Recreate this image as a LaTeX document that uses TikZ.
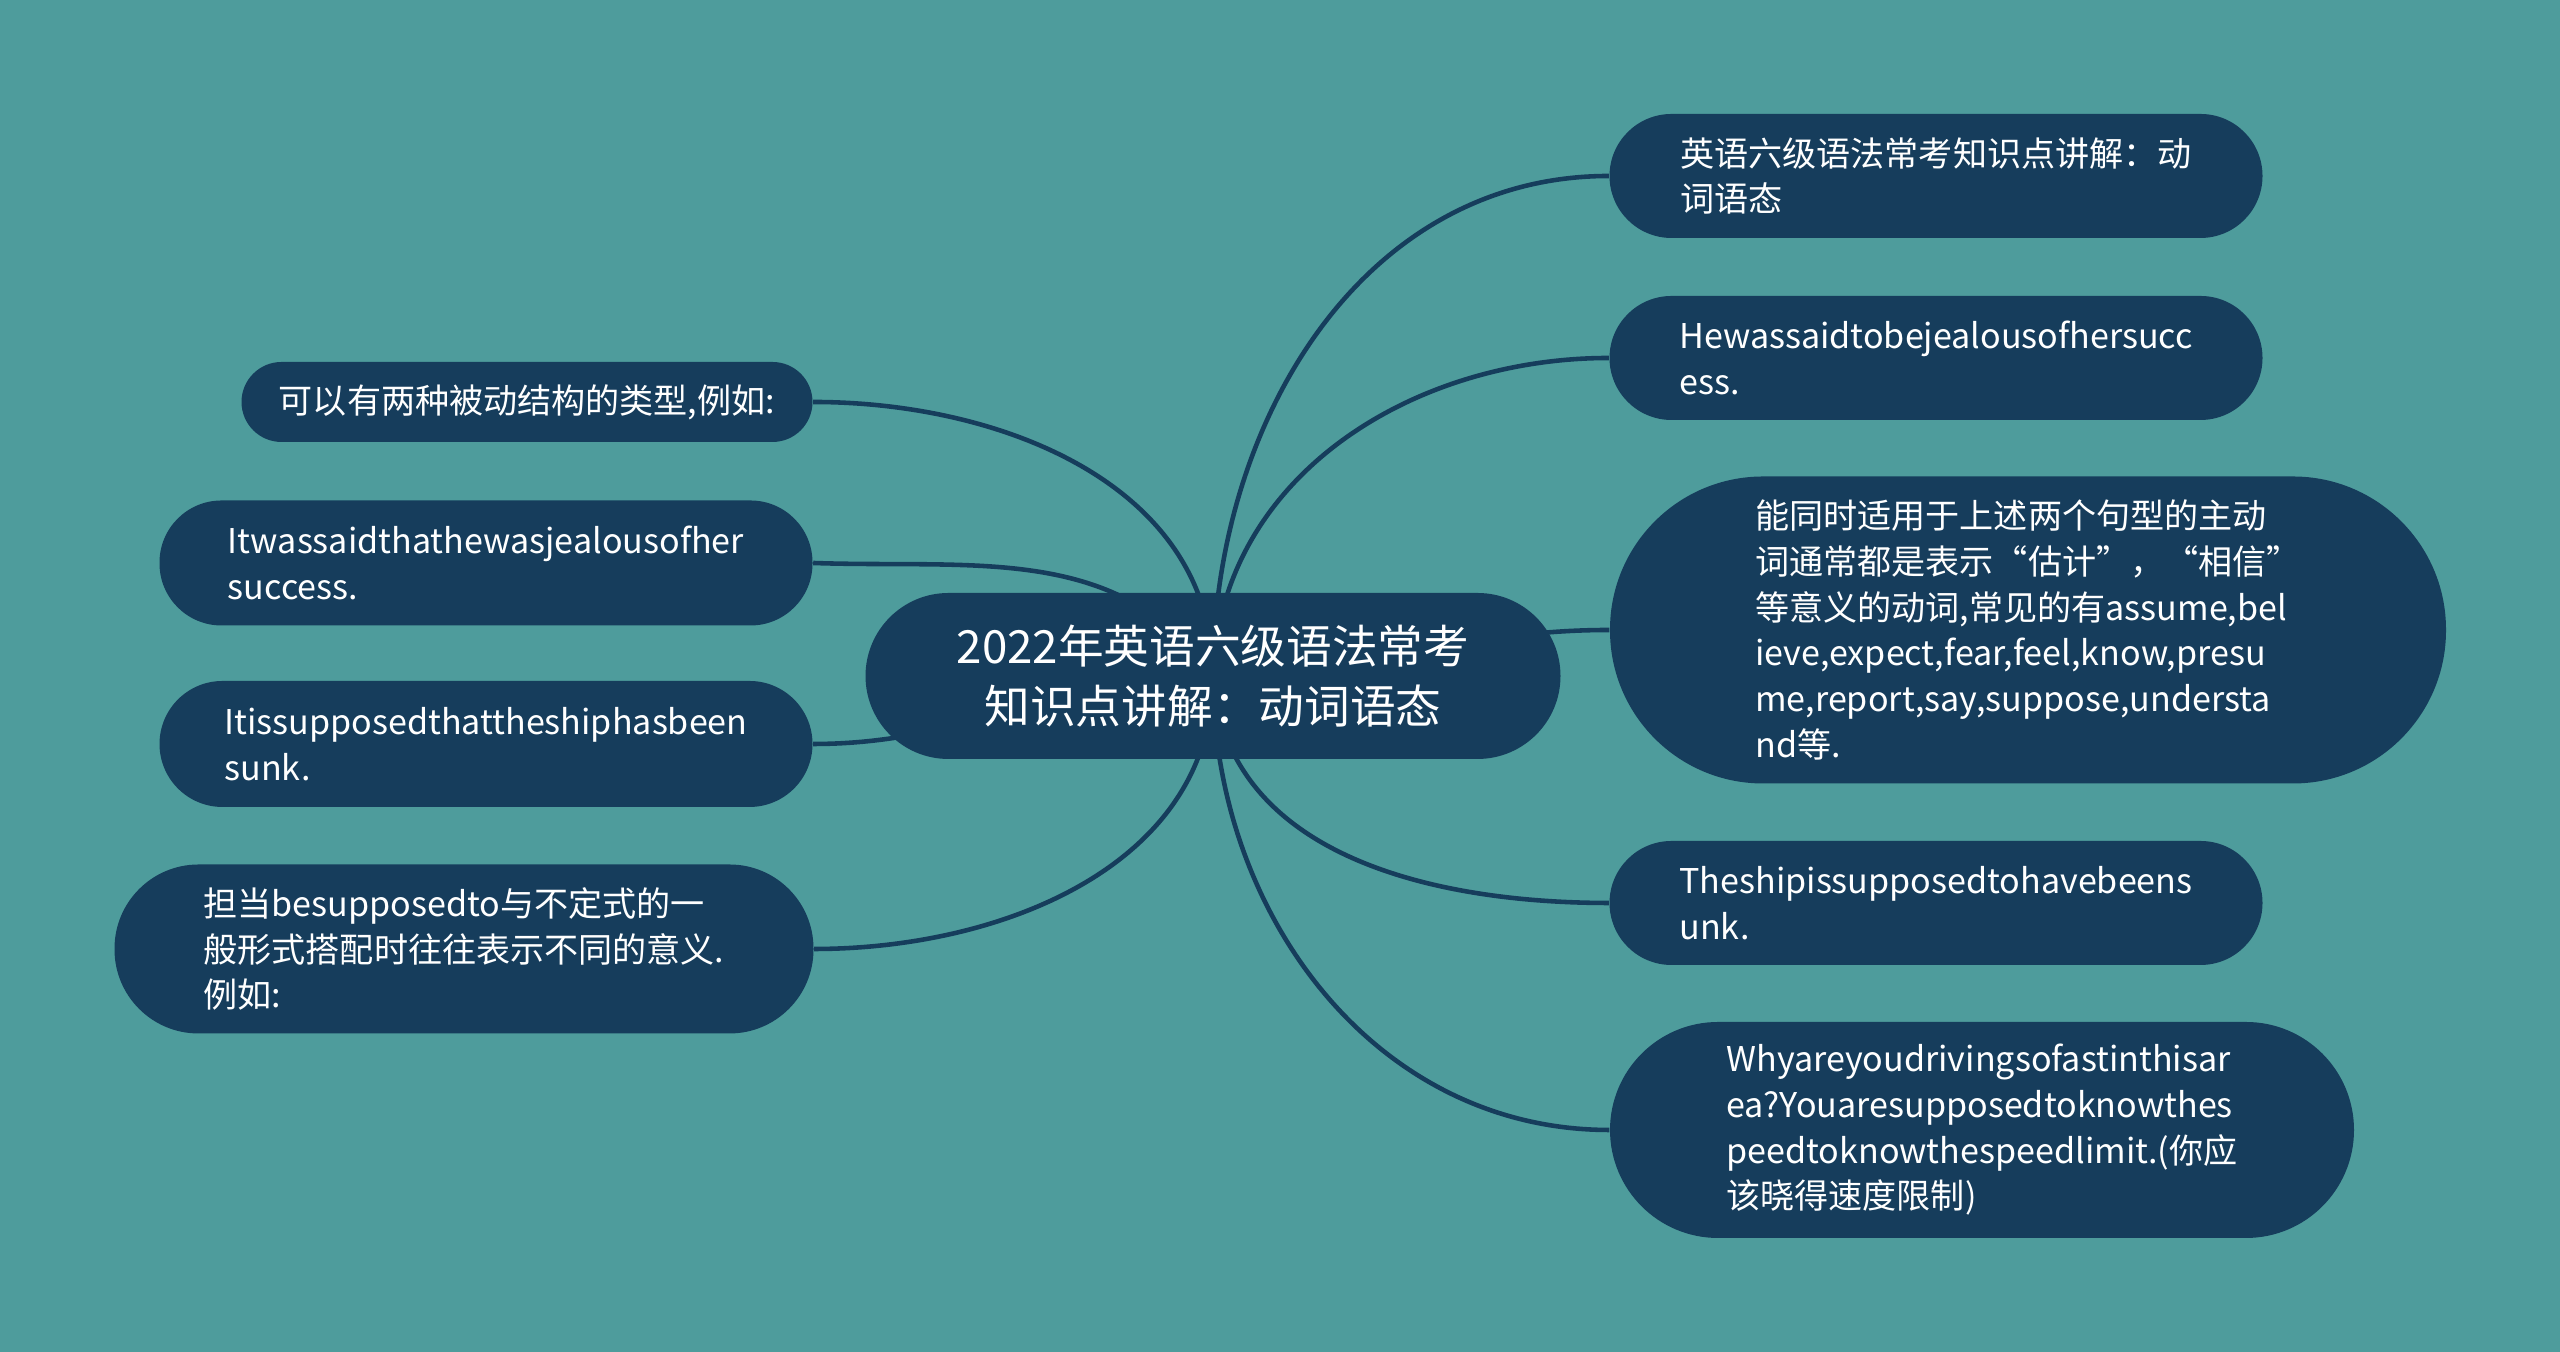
\documentclass[tikz,border=0pt]{standalone}
\usepackage{fontspec}
\setmainfont{Noto Sans CJK SC}
\usepackage{tikz}
\usetikzlibrary{backgrounds}

\definecolor{bgteal}{RGB}{78,156,156}
\definecolor{nodeblue}{RGB}{22,61,92}

\tikzset{
    bubble/.style={fill=nodeblue, text=white, align=left, inner sep=0pt,
        font=\fontsize{9.7}{13}\selectfont},
    link/.style={draw=nodeblue, line width=1.3pt}
}

\begin{document}
\begin{tikzpicture}
    \useasboundingbox (0,0) rectangle (25.6,13.52);

    \node[bubble, minimum width=6.95cm, minimum height=1.66cm, rounded corners=0.83cm,
        font=\fontsize{13}{17}\selectfont, align=center] (root) at (12.13,6.76)
        {2022年英语六级语法常考\\知识点讲解：动词语态};

    \node[bubble, minimum width=6.53cm, minimum height=1.24cm, rounded corners=0.62cm] (R1) at (19.36,11.76)
        {英语六级语法常考知识点讲解：动\\词语态};
    \node[bubble, minimum width=6.53cm, minimum height=1.24cm, rounded corners=0.62cm] (R2) at (19.36,9.94)
        {Hewassaidtobejealousofhersucc\\ess.};
    \node[bubble, minimum width=8.36cm, minimum height=3.07cm, rounded corners=1.53cm] (R3) at (20.28,7.22)
        {能同时适用于上述两个句型的主动\\词通常都是表示“估计”，“相信”\\等意义的动词,常见的有assume,bel\\ieve,expect,fear,feel,know,presu\\me,report,say,suppose,understa\\nd等.};
    \node[bubble, minimum width=6.53cm, minimum height=1.24cm, rounded corners=0.62cm] (R4) at (19.36,4.49)
        {Theshipissupposedtohavebeens\\unk.};
    \node[bubble, minimum width=7.44cm, minimum height=2.16cm, rounded corners=1.08cm] (R5) at (19.82,2.22)
        {Whyareyoudrivingsofastinthisar\\ea?Youaresupposedtoknowthes\\peedtoknowthespeedlimit.(你应\\该晓得速度限制)};

    \node[bubble, minimum width=5.71cm, minimum height=0.80cm, rounded corners=0.40cm] (L1) at (5.27,9.50)
        {可以有两种被动结构的类型,例如:};
    \node[bubble, minimum width=6.53cm, minimum height=1.25cm, rounded corners=0.62cm] (L2) at (4.86,7.89)
        {Itwassaidthathewasjealousofher\\success.};
    \node[bubble, minimum width=6.53cm, minimum height=1.26cm, rounded corners=0.63cm] (L3) at (4.86,6.08)
        {Itissupposedthattheshiphasbeen\\sunk.};
    \node[bubble, minimum width=6.99cm, minimum height=1.69cm, rounded corners=0.84cm] (L4) at (4.64,4.03)
        {担当besupposedto与不定式的一\\般形式搭配时往往表示不同的意义.\\例如:};

    \begin{scope}[on background layer]
        \fill[bgteal] (0,0) rectangle (25.6,13.52);
        \draw[link] (root.center) to[out=90,in=180] (R1.west);
        \draw[link] (root.center) to[out=88,in=180] (R2.west);
        \draw[link] (root.center) to[out=0,in=180] (R3.west);
        \draw[link] (root.center) to[out=-86,in=180] (R4.west);
        \draw[link] (root.center) to[out=-90,in=180] (R5.west);
        \draw[link] (L1.east) to[out=0,in=90] (root.center);
        \draw[link] (L2.east) to[out=-2,in=125] (root.center);
        \draw[link] (L3.east) to[out=0,in=180] (root.center);
        \draw[link] (L4.east) to[out=0,in=-90] (root.center);
    \end{scope}
\end{tikzpicture}
\end{document}
